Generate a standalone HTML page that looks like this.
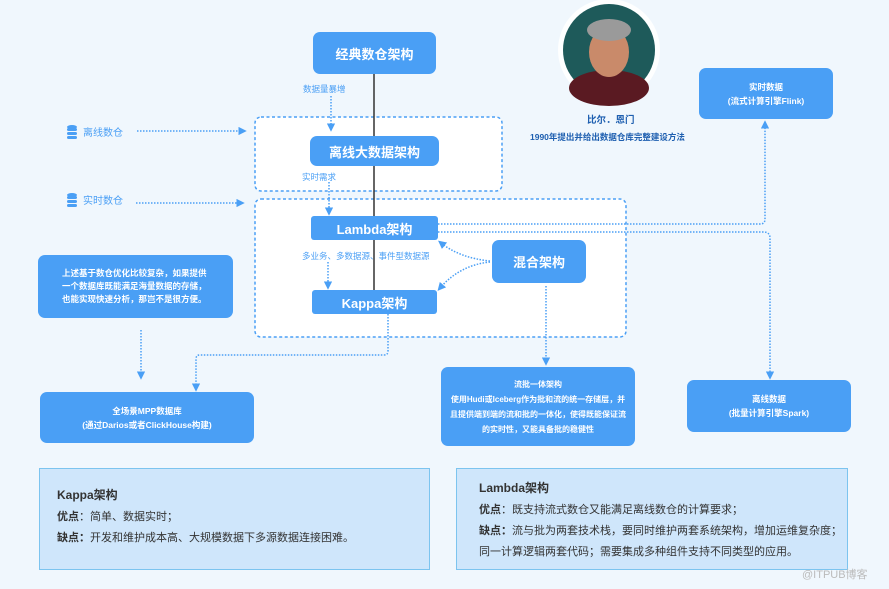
<!DOCTYPE html>
<html><head><meta charset="utf-8"><style>
body{margin:0;width:889px;height:589px;background:#f0f7fd;position:relative;overflow:hidden;font-family:"Liberation Sans","Noto Sans CJK SC",sans-serif}
.b{position:absolute;background:#4a9ff5;color:#fff;border-radius:7px;display:flex;align-items:center;justify-content:center;text-align:center;font-weight:bold}
.t{position:absolute;white-space:nowrap}
.p{position:absolute;background:#cfe6fb;border:1px solid #7cc4ef;box-sizing:border-box;color:#333;font-size:11px;line-height:21px}
svg{position:absolute;left:0;top:0}
</style></head><body>
<svg width="889" height="589">
<defs><marker id="a" markerWidth="5.5" markerHeight="5.5" refX="3" refY="2.75" orient="auto"><path d="M0,0 L5.5,2.75 L0,5.5z" fill="#4a9ff5"/></marker></defs>
<g fill="#fff" stroke="#4a9ff5" stroke-width="1.5" stroke-dasharray="3,2.5">
<rect x="255" y="117" width="247" height="74" rx="6"/>
<rect x="255" y="199" width="371" height="138" rx="6"/>
</g>
<line x1="374" y1="74" x2="374" y2="290" stroke="#333" stroke-width="1.5"/>
<g fill="none" stroke="#4a9ff5" stroke-width="1.5" stroke-dasharray="1.5,1.5">
<path d="M331,96 V128" marker-end="url(#a)"/>
<path d="M329,182 V212" marker-end="url(#a)"/>
<path d="M328,262 V286" marker-end="url(#a)"/>
<path d="M137,131 H243" marker-end="url(#a)"/>
<path d="M136,203 H241" marker-end="url(#a)"/>
<path d="M141,330 V376" marker-end="url(#a)"/>
<path d="M388,314 V351 Q388,355 384,355 H200 Q196,355 196,359 V388" marker-end="url(#a)"/>
<path d="M546,286 V362" marker-end="url(#a)"/>
<path d="M438,232 H763 Q770,232 770,238 V376" marker-end="url(#a)"/>
<path d="M438,224 H760 Q765,224 765,219 V124" marker-end="url(#a)"/>
<path d="M490,261 Q460,258 441,243" marker-end="url(#a)"/>
<path d="M490,262 Q460,265 440,288" marker-end="url(#a)"/>
</g>
<g fill="#4a9ff5">
<ellipse cx="72" cy="127" rx="5" ry="2"/><rect x="67" y="128" width="10" height="3" rx="1.5"/><rect x="67" y="132" width="10" height="3" rx="1.5"/><rect x="67" y="136" width="10" height="3" rx="1.5"/>
<ellipse cx="72" cy="195" rx="5" ry="2"/><rect x="67" y="196" width="10" height="3" rx="1.5"/><rect x="67" y="200" width="10" height="3" rx="1.5"/><rect x="67" y="204" width="10" height="3" rx="1.5"/>
</g>
<circle cx="609" cy="50" r="51" fill="#fff" opacity=".9"/>
<circle cx="609" cy="50" r="46" fill="#1e5a5a"/>
<ellipse cx="609" cy="88" rx="40" ry="18" fill="#5a1a22"/>
<ellipse cx="609" cy="52" rx="20" ry="25" fill="#c98a6a"/>
<ellipse cx="609" cy="30" rx="22" ry="11" fill="#9a9a9a"/>
</svg>
<div class="b" style="left:313px;top:32px;width:123px;height:42px;font-size:13px">经典数仓架构</div>
<div class="b" style="left:310px;top:136px;width:129px;height:30px;font-size:13px">离线大数据架构</div>
<div class="b" style="left:311px;top:216px;width:127px;height:24px;font-size:13px;border-radius:3px">Lambda架构</div>
<div class="b" style="left:312px;top:290px;width:125px;height:24px;font-size:13px;border-radius:3px">Kappa架构</div>
<div class="b" style="left:492px;top:240px;width:94px;height:43px;font-size:13px">混合架构</div>
<div class="b" style="left:38px;top:255px;width:195px;height:63px;font-size:8.5px;line-height:13px;text-align:left;justify-content:flex-start;padding-left:24px;box-sizing:border-box">上述基于数仓优化比较复杂，如果提供<br>一个数据库既能满足海量数据的存储，<br>也能实现快速分析，那岂不是很方便。</div>
<div class="b" style="left:40px;top:392px;width:214px;height:51px;font-size:8.5px;line-height:14px">全场景MPP数据库<br>(通过Darios或者ClickHouse构建)</div>
<div class="b" style="left:441px;top:367px;width:194px;height:79px;font-size:8px;line-height:15px">流批一体架构<br>使用Hudi或Iceberg作为批和流的统一存储层，并<br>且提供端到端的流和批的一体化，使得既能保证流<br>的实时性，又能具备批的稳健性</div>
<div class="b" style="left:687px;top:380px;width:164px;height:52px;font-size:8.5px;line-height:14px">离线数据<br>(批量计算引擎Spark)</div>
<div class="b" style="left:699px;top:68px;width:134px;height:51px;font-size:8.5px;line-height:14px">实时数据<br>(流式计算引擎Flink)</div>
<div class="t" style="left:303px;top:83px;font-size:8.5px;color:#4a9ff5">数据量暴增</div>
<div class="t" style="left:302px;top:171px;font-size:8.5px;color:#4a9ff5">实时需求</div>
<div class="t" style="left:302px;top:250px;font-size:8.5px;color:#4a9ff5">多业务、多数据源、事件型数据源</div>
<div class="t" style="left:83px;top:124px;font-size:10px;color:#4a9ff5">离线数仓</div>
<div class="t" style="left:83px;top:192px;font-size:10px;color:#4a9ff5">实时数仓</div>
<div class="t" style="left:587px;top:112px;font-size:9.5px;color:#1e5fb0;font-weight:bold">比尔．恩门</div>
<div class="t" style="left:530px;top:131px;font-size:8.5px;color:#1e5fb0;font-weight:bold">1990年提出并给出数据仓库完整建设方法</div>
<div class="p" style="left:39px;top:468px;width:391px;height:102px;padding:16px 0 0 17px"><b style="font-size:12px">Kappa架构</b><br><b>优点</b>：简单、数据实时；<br><b>缺点：</b>开发和维护成本高、大规模数据下多源数据连接困难。</div>
<div class="p" style="left:456px;top:468px;width:392px;height:102px;padding:9px 0 0 22px"><b style="font-size:12px">Lambda架构</b><br><b>优点</b>：既支持流式数仓又能满足离线数仓的计算要求；<br><b>缺点：</b>流与批为两套技术栈，要同时维护两套系统架构，增加运维复杂度；<br>同一计算逻辑两套代码；需要集成多种组件支持不同类型的应用。</div>
<div class="t" style="left:802px;top:566px;font-size:11px;color:#bbb">@ITPUB博客</div>
</body></html>
